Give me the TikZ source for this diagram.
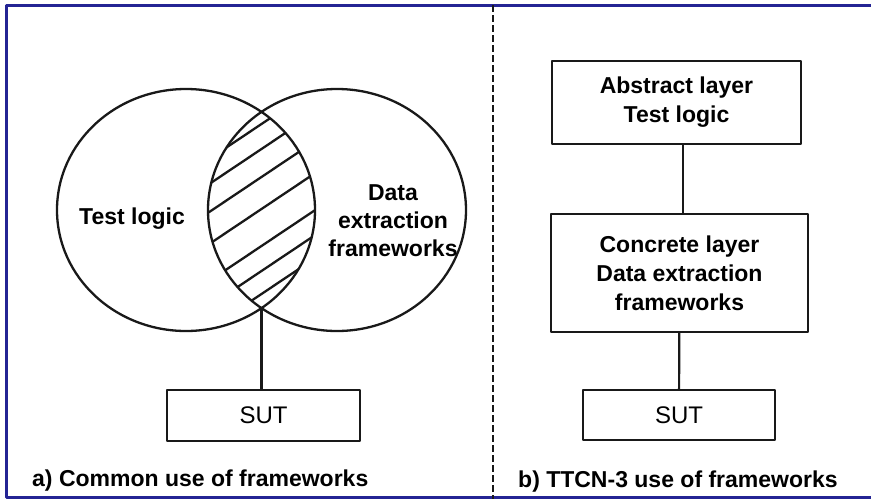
\documentclass[tikz,border=0pt]{standalone}
\usepackage{fontspec}
\setmainfont{Liberation Sans}
\usepackage{xcolor}
\usepackage{tikz}
\usetikzlibrary{calc}
\definecolor{framecol}{RGB}{36,36,148}
\definecolor{inkcol}{RGB}{25,25,25}

\begin{document}
\begin{tikzpicture}[x=1pt,y=-1pt,line join=round,
  frame/.style={line width=3pt,color=framecol},
  venn/.style={line width=2.3pt,color=inkcol},
  hatch/.style={line width=2.3pt,color=inkcol},
  wire/.style={line width=2.2pt,color=inkcol},
  divider/.style={line width=2.2pt,color=inkcol,dash pattern=on 7pt off 3pt},
  lbl/.style={font=\fontsize{23}{28}\selectfont\bfseries,inner sep=0pt},
  box/.style={draw=inkcol,line width=2.2pt,inner sep=0pt,align=center,fill=white,
    font=\fontsize{23}{29}\selectfont\bfseries},
  plainbox/.style={box,font=\fontsize{24}{28}\selectfont}]
\useasboundingbox (0,0) rectangle (871,499);
\draw[frame] (871,5.5) -- (6,5.5) -- (6,497) -- (871,497);
\draw[divider] (493,5) -- (493,499);

% a) two overlapping sets, shared part hatched
\draw[venn] (186,210) ellipse [x radius=129, y radius=121];
\draw[venn] (337,210) ellipse [x radius=129, y radius=121];
\begin{scope}
\clip (186,210) ellipse [x radius=129, y radius=121];
\clip (337,210) ellipse [x radius=129, y radius=121];
\foreach \c in {125,150,178,210,247,272,295}
  \draw[hatch] (180,{\c+53.6}) -- (340,{\c-53.6});
\end{scope}
\node[lbl,anchor=base] (tl) at (132,224) {Test logic};
\node[lbl,align=center] (def) at (393,221) {Data\\extraction\\frameworks};
\node[plainbox,minimum width=193,minimum height=51] (suta) at (263.5,415.5) {SUT};
\coordinate (lens) at (261.5,308);
\draw[wire] (lens) -- (lens |- suta.north);
\node[lbl,anchor=base west] (capa) at (32,486) {a) Common use of frameworks};

% b) layered
\node[box,minimum width=249,minimum height=83] (abs) at (676.5,102.5) {Abstract layer\\Test logic};
\node[box,minimum width=257,minimum height=118] (conc) at (679.5,273) {Concrete layer\\Data extraction\\frameworks};
\node[plainbox,minimum width=192,minimum height=50] (sutb) at (679,415) {SUT};
\draw[wire] ([xshift=6.5pt]abs.south) -- ([xshift=6.5pt]abs.south |- conc.north);
\draw[wire] (conc) -- (sutb);
\node[lbl,anchor=base west] (capb) at (518,487) {b) TTCN-3 use of frameworks};
\end{tikzpicture}
\end{document}
